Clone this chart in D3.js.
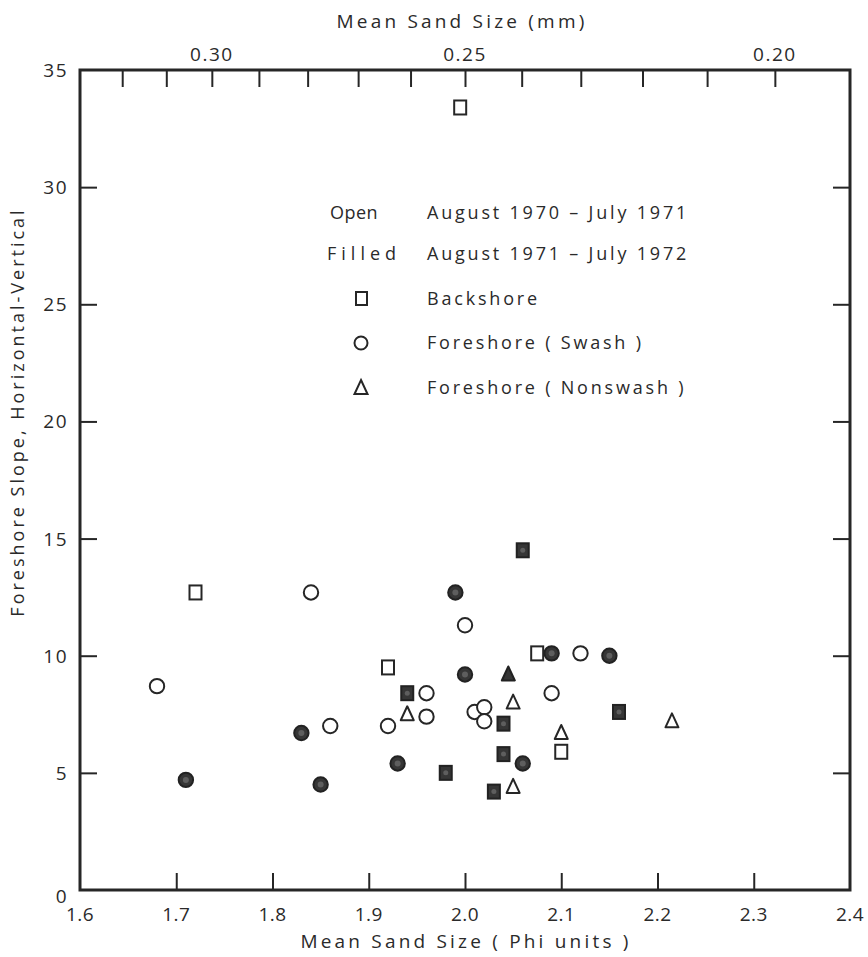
<!DOCTYPE html>
<html>
<head>
<meta charset="utf-8">
<script src="https://cdn.jsdelivr.net/npm/d3@7"></script>
<style>
  body { margin: 0; background: #fff; }
  svg text { font-family: "Open Sans", "DejaVu Sans", sans-serif; fill: #2a2a2a; }
</style>
</head>
<body>
<div id="chart"></div>
<script>
// Data: [phi, slope]
const backshoreOpen = [[1.995, 33.4], [1.72, 12.7], [1.92, 9.5], [2.075, 10.1], [2.10, 5.9]];
const backshoreFilled = [[2.06, 14.5], [1.94, 8.4], [2.04, 7.1], [2.16, 7.6], [2.04, 5.8], [1.98, 5.0], [2.03, 4.2]];
const swashOpen = [[1.84, 12.7], [2.00, 11.3], [2.12, 10.1], [1.96, 8.4], [2.09, 8.4], [2.01, 7.6],
                   [2.02, 7.8], [2.02, 7.2], [1.96, 7.4], [1.92, 7.0], [1.68, 8.7], [1.86, 7.0]];
const swashFilled = [[1.99, 12.7], [2.09, 10.1], [2.15, 10.0], [2.00, 9.2], [1.93, 5.4], [2.06, 5.4],
                     [1.83, 6.7], [1.71, 4.7], [1.85, 4.5]];
const nonswashOpen = [[2.05, 8.0], [1.94, 7.5], [2.215, 7.2], [2.10, 6.7], [2.05, 4.4]];
const nonswashFilled = [[2.045, 9.2]];

const phiTicks = [1.7, 1.8, 1.9, 2.0, 2.1, 2.2, 2.3];
const phiLabels = [1.6, 1.7, 1.8, 1.9, 2.0, 2.1, 2.2, 2.3, 2.4];
const mmTicks = [0.32, 0.31, 0.30, 0.29, 0.28, 0.27, 0.26, 0.25, 0.24, 0.23, 0.22, 0.21, 0.20];
const mmLabels = [0.30, 0.25, 0.20];
const slopeTicks = [5, 10, 15, 20, 25, 30];
const slopeLabels = [0, 5, 10, 15, 20, 25, 30, 35];

const legendRows = [
    { key: "Open", text: "August 1970 \u2013 July 1971" },
    { key: "Filled", text: "August 1971 \u2013 July 1972" },
    { key: "square", text: "Backshore" },
    { key: "circle", text: "Foreshore ( Swash )" },
    { key: "triangle", text: "Foreshore ( Nonswash )" }
];

const width = 868, height = 957;
const mLeft = 80, mRight = 850, mTop = 70, mBottom = 890;
const ink = "#262626";

const svg = d3.select("#chart").append("svg")
    .attr("width", width)
    .attr("height", height);

const x = d3.scaleLinear().domain([1.6, 2.4]).range([mLeft, mRight]);
const y = d3.scaleLinear().domain([0, 35]).range([mBottom, mTop]);
// phi = -log2(mm), so mm runs on a log scale across the top
const xmm = d3.scaleLog().base(2).domain([Math.pow(2, -1.6), Math.pow(2, -2.4)]).range([mLeft, mRight]);

const tickLen = 17;

// Tick marks, pointing inward
svg.append("g").attr("transform", `translate(0,${mBottom})`)
    .call(d3.axisBottom(x).tickValues(phiTicks).tickSize(-tickLen).tickFormat(""))
    .call(g => g.select(".domain").remove());
svg.append("g").attr("transform", `translate(0,${mTop})`)
    .call(d3.axisTop(xmm).tickValues(mmTicks).tickSize(-tickLen).tickFormat(""))
    .call(g => g.select(".domain").remove());
svg.append("g").attr("transform", `translate(${mLeft},0)`)
    .call(d3.axisLeft(y).tickValues(slopeTicks).tickSize(-tickLen).tickFormat(""))
    .call(g => g.select(".domain").remove());
svg.append("g").attr("transform", `translate(${mRight},0)`)
    .call(d3.axisRight(y).tickValues(slopeTicks).tickSize(-tickLen).tickFormat(""))
    .call(g => g.select(".domain").remove());
svg.selectAll(".tick line").attr("stroke", ink).attr("stroke-width", 2);

// Tick labels
svg.append("g").selectAll("text").data(phiLabels).enter().append("text")
    .attr("x", d => x(d)).attr("y", mBottom + 31)
    .attr("text-anchor", "middle").style("font-size", "19px").style("letter-spacing", "0.5px")
    .text(d => d.toFixed(1));
svg.append("g").selectAll("text").data(mmLabels).enter().append("text")
    .attr("x", d => xmm(d)).attr("y", mTop - 9)
    .attr("text-anchor", "middle").style("font-size", "19px").style("letter-spacing", "1.5px")
    .text(d => d.toFixed(2));
svg.append("g").selectAll("text").data(slopeLabels).enter().append("text")
    .attr("x", mLeft - 12).attr("y", d => y(d) + 7 + (d === 0 ? 6 : 0))
    .attr("text-anchor", "end").style("font-size", "19px").style("letter-spacing", "1.5px")
    .text(d => d);

// Axis titles
svg.append("text").attr("x", 462).attr("y", 28)
    .attr("text-anchor", "middle").style("font-size", "19px").style("letter-spacing", "3.2px")
    .text("Mean Sand Size (mm)");
svg.append("text").attr("x", 466).attr("y", 948)
    .attr("text-anchor", "middle").style("font-size", "19px").style("letter-spacing", "3.2px")
    .text("Mean Sand Size ( Phi units )");
svg.append("text").attr("transform", "translate(24,412) rotate(-90)")
    .attr("text-anchor", "middle").style("font-size", "18px").style("letter-spacing", "3px")
    .text("Foreshore Slope, Horizontal-Vertical");

// Frame
svg.append("rect")
    .attr("x", mLeft).attr("y", mTop)
    .attr("width", mRight - mLeft).attr("height", mBottom - mTop)
    .attr("fill", "none").attr("stroke", ink).attr("stroke-width", 3);

// Marker drawing
const openStyle = { fill: "#fff", stroke: ink, inner: null };
const filledStyle = { fill: "#363636", stroke: "#222", inner: "#5e5e5e" };

function drawSquares(data, style) {
    const g = svg.append("g");
    g.selectAll("rect").data(data).enter().append("rect")
        .attr("x", d => x(d[0]) - 6).attr("y", d => y(d[1]) - 7)
        .attr("width", 12).attr("height", 14)
        .attr("fill", style.fill).attr("stroke", style.stroke).attr("stroke-width", 2);
    if (style.inner) {
        g.selectAll("circle").data(data).enter().append("circle")
            .attr("cx", d => x(d[0])).attr("cy", d => y(d[1])).attr("r", 2.5)
            .attr("fill", style.inner);
    }
}
function drawCircles(data, style) {
    const g = svg.append("g");
    g.selectAll("circle.m").data(data).enter().append("circle").attr("class", "m")
        .attr("cx", d => x(d[0])).attr("cy", d => y(d[1])).attr("r", 7.2)
        .attr("fill", style.fill).attr("stroke", style.stroke).attr("stroke-width", 2);
    if (style.inner) {
        g.selectAll("circle.c").data(data).enter().append("circle").attr("class", "c")
            .attr("cx", d => x(d[0])).attr("cy", d => y(d[1])).attr("r", 3)
            .attr("fill", style.inner);
    }
}
function trianglePath(cx, cy) {
    return `M${cx},${cy - 8}L${cx + 6.5},${cy + 6}L${cx - 6.5},${cy + 6}Z`;
}
function drawTriangles(data, style) {
    svg.append("g").selectAll("path").data(data).enter().append("path")
        .attr("d", d => trianglePath(x(d[0]), y(d[1])))
        .attr("fill", style.fill).attr("stroke", style.stroke).attr("stroke-width", 2)
        .attr("stroke-linejoin", "round");
}

drawSquares(backshoreOpen, openStyle);
drawCircles(swashOpen, openStyle);
drawTriangles(nonswashOpen, openStyle);
drawSquares(backshoreFilled, filledStyle);
drawCircles(swashFilled, filledStyle);
drawTriangles(nonswashFilled, filledStyle);

// Legend
const legend = svg.append("g");
const rowY = [213, 254, 299, 343, 388];
legendRows.forEach((r, i) => {
    const yy = rowY[i];
    if (r.key === "square") {
        legend.append("rect").attr("x", 356).attr("y", yy - 7).attr("width", 11).attr("height", 13)
            .attr("fill", "#fff").attr("stroke", ink).attr("stroke-width", 2);
    } else if (r.key === "circle") {
        legend.append("circle").attr("cx", 361).attr("cy", yy).attr("r", 6.5)
            .attr("fill", "#fff").attr("stroke", ink).attr("stroke-width", 2);
    } else if (r.key === "triangle") {
        legend.append("path").attr("d", trianglePath(361, yy))
            .attr("fill", "#fff").attr("stroke", ink).attr("stroke-width", 2);
    } else {
        legend.append("text").attr("x", r.key === "Open" ? 330 : 327).attr("y", yy + 6)
            .style("font-size", "18px").style("letter-spacing", r.key === "Open" ? "0.5px" : "5px")
            .text(r.key);
    }
    legend.append("text").attr("x", 427).attr("y", yy + 6)
        .style("font-size", "18px").style("letter-spacing", "2.8px").text(r.text);
});
</script>
</body>
</html>
